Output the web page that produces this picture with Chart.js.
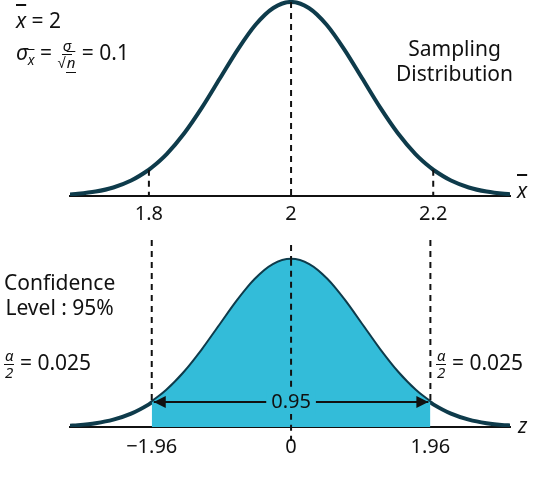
<!DOCTYPE html><html><head><meta charset="utf-8">
<script src="https://cdn.jsdelivr.net/npm/chart.js@4"></script>
<style>
body{margin:0;width:550px;height:493px;position:relative;font-family:"Noto Sans",sans-serif;background:#fff;overflow:hidden}
#c1w{position:absolute;left:0;top:0;width:550px;height:232px}
#c2w{position:absolute;left:0;top:240px;width:550px;height:227px}
.t{position:absolute;font-size:21px;color:#111;line-height:1.2;white-space:nowrap}
.fr{display:inline-flex;flex-direction:column;align-items:center;font-size:15px;vertical-align:middle;line-height:1.05;font-style:italic}
.fr span:first-child{border-bottom:1.5px solid #111;padding:0 1px}
</style></head><body>
<div id="c1w"><canvas id="c1"></canvas></div>
<div id="c2w"><canvas id="c2"></canvas></div>
<div class="t" style="left:16px;top:8px"><i style="text-decoration:overline">x</i> = 2</div>
<div class="t" style="left:16px;top:38px"><i>σ</i><sub style="font-size:14px"><i style="text-decoration:overline">x</i></sub> = <span class="fr"><span>σ</span><span>√<span style="text-decoration:overline">n</span></span></span> = 0.1</div>
<div class="t" style="left:396px;top:36px;text-align:center">Sampling<br>Distribution</div>
<div class="t" style="left:4px;top:270px;text-align:center">Confidence<br>Level : 95%</div>
<div class="t" style="left:4px;top:348px"><span class="fr"><span>α</span><span>2</span></span> = 0.025</div>
<div class="t" style="left:436px;top:348px"><span class="fr"><span>α</span><span>2</span></span> = 0.025</div>
<div class="t" style="left:517px;top:178px;font-style:italic;text-decoration:overline">x</div>
<div class="t" style="left:518px;top:413px;font-style:italic">z</div>
<script>
const zs=[-3.11,-3,-2.75,-2.5,-2.25,-2,-1.96,-1.75,-1.5,-1.25,-1,-0.75,-0.5,-0.25,0,0.25,0.5,0.75,1,1.25,1.5,1.75,1.96,2,2.25,2.5,2.75,3,3.08];
const dens=[0.008,0.0111,0.0228,0.0439,0.0796,0.1353,0.1465,0.2163,0.3247,0.4578,0.6065,0.7548,0.8825,0.969,1,0.969,0.8825,0.7548,0.6065,0.4578,0.3247,0.2163,0.1465,0.1353,0.0796,0.0439,0.0228,0.0111,0.0092];
const mean=2, sigma=0.1;
const topTicks=[1.8,2,2.2];
const topTickLabels=['1.8','2','2.2'];
const zTicks=[-1.96,0,1.96];
const zTickLabels=['−1.96','0','1.96'];
const crit=1.96;
const curveColor='#0e3b4b', fillColor='#33bcd9';
const font={family:'Noto Sans',size:20};
function dashV(ctx,x,y0,y1){ctx.save();ctx.setLineDash([6,5]);ctx.lineWidth=2;ctx.strokeStyle='#111';ctx.beginPath();ctx.moveTo(x,y0);ctx.lineTo(x,y1);ctx.stroke();ctx.restore();}
const topData=zs.map((z,i)=>({x:mean+z*sigma,y:dens[i]}));
new Chart(document.getElementById('c1'),{type:'line',
data:{datasets:[{data:topData,borderColor:curveColor,borderWidth:4,pointRadius:0,cubicInterpolationMode:'monotone'}]},
options:{responsive:true,maintainAspectRatio:false,animation:false,layout:{padding:{left:70,right:40,top:0,bottom:0}},
plugins:{legend:{display:false},tooltip:{enabled:false}},
scales:{x:{type:'linear',min:mean-3.11*sigma,max:mean+3.08*sigma,afterBuildTicks:a=>{a.ticks=topTicks.map(v=>({value:v}))},
ticks:{font,color:'#111',padding:6,callback:(v)=>topTickLabels[topTicks.findIndex(t=>Math.abs(t-v)<1e-9)]},grid:{display:false,drawTicks:false},border:{color:'#111',width:2}},
y:{display:false,min:0,max:1.01}}},
plugins:[{id:'d',afterDatasetsDraw(ch){const c=ch.ctx,xs=ch.scales.x,ys=ch.scales.y;const b=ys.getPixelForValue(0);
dashV(c,xs.getPixelForValue(1.8),ys.getPixelForValue(0.1353),b);dashV(c,xs.getPixelForValue(2.2),ys.getPixelForValue(0.1353),b);dashV(c,xs.getPixelForValue(2),ys.getPixelForValue(1),b);}}]});
const botData=zs.map((z,i)=>({x:z,y:dens[i]}));
const fillData=botData.filter(p=>p.x>=-crit&&p.x<=crit);
new Chart(document.getElementById('c2'),{type:'line',
data:{datasets:[{data:fillData,borderWidth:0,borderColor:'rgba(0,0,0,0)',backgroundColor:fillColor,fill:'origin',pointRadius:0,cubicInterpolationMode:'monotone'},
{data:botData,borderColor:curveColor,borderWidth:4,pointRadius:0,cubicInterpolationMode:'monotone'}]},
options:{responsive:true,maintainAspectRatio:false,animation:false,layout:{padding:{left:70,right:40,top:0,bottom:0}},
plugins:{legend:{display:false},tooltip:{enabled:false}},
scales:{x:{type:'linear',min:-3.11,max:3.08,afterBuildTicks:a=>{a.ticks=zTicks.map(v=>({value:v}))},
ticks:{font,color:'#111',padding:8,callback:(v)=>zTickLabels[zTicks.indexOf(v)]},grid:{display:false,drawTicks:false},border:{color:'#111',width:2}},
y:{display:false,min:0,max:1.118}}},
plugins:[{id:'d2',afterDatasetsDraw(ch){const c=ch.ctx,xs=ch.scales.x,ys=ch.scales.y;const b=ys.getPixelForValue(0);
const xl=xs.getPixelForValue(-crit),xr=xs.getPixelForValue(crit),x0=xs.getPixelForValue(0);
dashV(c,xl,0,ys.getPixelForValue(0.1465));dashV(c,xr,0,ys.getPixelForValue(0.1465));dashV(c,x0,5,ys.getPixelForValue(1));dashV(c,x0,ys.getPixelForValue(1),b+14);
const ay=b-25;c.save();c.fillStyle='#111';c.strokeStyle='#111';c.lineWidth=2;c.font='20px Noto Sans';c.textAlign='center';c.textBaseline='middle';
const tw=c.measureText('0.95').width+10;c.fillStyle=fillColor;c.fillRect(x0-tw/2,ay-12,tw,24);c.fillStyle='#111';c.fillText('0.95',x0,ay);
c.beginPath();c.moveTo(xl+2,ay);c.lineTo(x0-tw/2,ay);c.moveTo(x0+tw/2,ay);c.lineTo(xr-2,ay);c.stroke();
c.beginPath();c.moveTo(xl+2,ay);c.lineTo(xl+14,ay-6);c.lineTo(xl+14,ay+6);c.closePath();c.fill();
c.beginPath();c.moveTo(xr-2,ay);c.lineTo(xr-14,ay-6);c.lineTo(xr-14,ay+6);c.closePath();c.fill();c.restore();}}]});
</script></body></html>
